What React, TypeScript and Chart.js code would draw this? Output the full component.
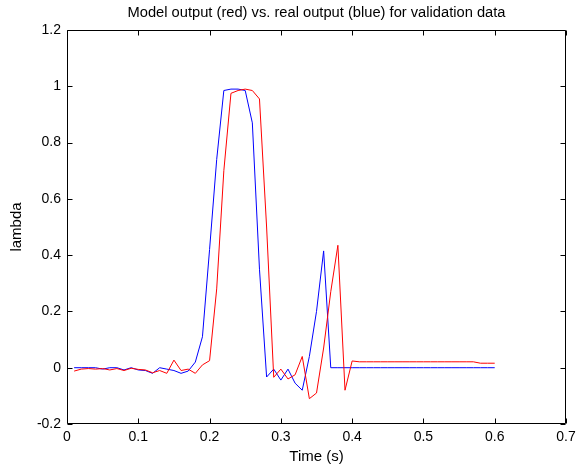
import React, { useEffect, useRef } from "react";
import { Chart, registerables } from "chart.js";

Chart.register(...registerables);

const TIME = [
  0.01, 0.02, 0.03, 0.04, 0.05, 0.06, 0.07, 0.08, 0.09, 0.1,
  0.11, 0.12, 0.13, 0.14, 0.15, 0.16, 0.17, 0.18, 0.19, 0.2,
  0.21, 0.22, 0.23, 0.24, 0.25, 0.26, 0.27, 0.28, 0.29, 0.3,
  0.31, 0.32, 0.33, 0.34, 0.35, 0.36, 0.37, 0.38, 0.39, 0.4,
  0.41, 0.42, 0.43, 0.44, 0.45, 0.46, 0.47, 0.48, 0.49, 0.5,
  0.51, 0.52, 0.53, 0.54, 0.55, 0.56, 0.57, 0.58, 0.59, 0.6,
];

const REAL_OUTPUT = [
  0, 0, 0, 0, -0.005, 0, 0, -0.008, 0, -0.008,
  -0.01, -0.02, 0, -0.005, -0.01, -0.02, -0.012, 0.02, 0.11, 0.42,
  0.74, 0.985, 0.99, 0.99, 0.985, 0.87, 0.35, -0.033, -0.005, -0.044,
  -0.005, -0.055, -0.08, 0.04, 0.2, 0.415, 0, 0, 0, 0,
  0, 0, 0, 0, 0, 0, 0, 0, 0, 0,
  0, 0, 0, 0, 0, 0, 0, 0, 0, 0,
];

const MODEL_OUTPUT = [
  -0.012, -0.005, -0.003, -0.005, -0.003, -0.008, -0.003, -0.01, -0.002, -0.006,
  -0.008, -0.018, -0.01, -0.02, 0.027, -0.01, -0.005, -0.02, 0.01, 0.025,
  0.28, 0.7, 0.975, 0.985, 0.99, 0.985, 0.955, 0.5, -0.034, -0.005,
  -0.04, -0.025, 0.04, -0.11, -0.09, 0.07, 0.27, 0.435, -0.08, 0.024,
  0.021, 0.021, 0.021, 0.021, 0.021, 0.021, 0.021, 0.021, 0.021, 0.021,
  0.021, 0.021, 0.021, 0.021, 0.021, 0.021, 0.021, 0.016, 0.016, 0.016,
];

const X_TICKS = [0, 0.1, 0.2, 0.3, 0.4, 0.5, 0.6, 0.7];
const Y_TICKS = [-0.2, 0, 0.2, 0.4, 0.6, 0.8, 1, 1.2];

const TITLE = "Model output (red) vs. real output (blue) for validation data";
const X_LABEL = "Time (s)";
const Y_LABEL = "lambda";

const FONT = "'Liberation Sans', Arial, Helvetica, sans-serif";

const fmt = (v: number) => String(Number(Number(v).toFixed(3)));

const boxPlugin = {
  id: "matlabBox",
  afterDatasetsDraw(chart: any) {
    const { ctx, chartArea, scales } = chart;
    const { left, right, top, bottom } = chartArea;
    const L = Math.round(left) + 0.5;
    const R = Math.round(right) - 0.5;
    const T = Math.round(top) + 0.5;
    const B = Math.round(bottom) - 0.5;
    const len = 5;
    ctx.save();
    ctx.strokeStyle = "#000";
    ctx.lineWidth = 1;
    ctx.beginPath();
    ctx.rect(L, T, R - L, B - T);
    X_TICKS.forEach((v) => {
      const px = Math.round(scales.x.getPixelForValue(v)) + 0.5;
      ctx.moveTo(px, B);
      ctx.lineTo(px, B - len);
      ctx.moveTo(px, T);
      ctx.lineTo(px, T + len);
    });
    Y_TICKS.forEach((v) => {
      const py = Math.round(scales.y.getPixelForValue(v)) + 0.5;
      ctx.moveTo(L, py);
      ctx.lineTo(L + len, py);
      ctx.moveTo(R, py);
      ctx.lineTo(R - len, py);
    });
    ctx.stroke();
    ctx.restore();
  },
};

export default function App() {
  const ref = useRef<HTMLCanvasElement | null>(null);

  useEffect(() => {
    if (!ref.current) return;
    const chart = new Chart(ref.current, {
      type: "line",
      data: {
        datasets: [
          {
            label: "model",
            data: TIME.map((t, i) => ({ x: t, y: MODEL_OUTPUT[i] })),
            borderColor: "#ff0000",
            borderWidth: 1,
            pointRadius: 0,
            tension: 0,
            fill: false,
          },
          {
            label: "real",
            data: TIME.map((t, i) => ({ x: t, y: REAL_OUTPUT[i] })),
            borderColor: "#0000ff",
            borderWidth: 1,
            pointRadius: 0,
            tension: 0,
            fill: false,
          },
        ],
      },
      options: {
        animation: false,
        responsive: false,
        maintainAspectRatio: false,
        layout: { padding: { left: 0, right: 10, top: 0, bottom: 0 } },
        plugins: {
          legend: { display: false },
          tooltip: { enabled: false },
          title: {
            display: true,
            text: TITLE,
            fullSize: false,
            color: "#000",
            font: { family: FONT, size: 14.7, weight: "normal" },
            padding: { top: 3.7, bottom: 8.66 },
          },
        },
        scales: {
          x: {
            type: "linear",
            min: 0,
            max: 0.7,
            afterBuildTicks: (s: any) => {
              s.ticks = X_TICKS.map((v) => ({ value: v }));
            },
            afterFit: (s: any) => {
              s.height = 44;
              s.paddingLeft = 0;
              s.paddingRight = 0;
            },
            grid: { display: false, drawTicks: false },
            border: { display: false },
            ticks: {
              color: "#000",
              padding: 5,
              maxRotation: 0,
              autoSkip: false,
              font: { family: FONT, size: 14 },
              callback: (v: any) => fmt(v),
            },
            title: {
              display: true,
              text: X_LABEL,
              color: "#000",
              font: { family: FONT, size: 15 },
              padding: { top: 0, bottom: 2 },
            },
          },
          y: {
            type: "linear",
            min: -0.2,
            max: 1.2,
            afterBuildTicks: (s: any) => {
              s.ticks = Y_TICKS.map((v) => ({ value: v }));
            },
            afterFit: (s: any) => {
              s.width = 67;
              s.paddingTop = 0;
              s.paddingBottom = 0;
            },
            grid: { display: false, drawTicks: false },
            border: { display: false },
            ticks: {
              color: "#000",
              padding: 6,
              autoSkip: false,
              font: { family: FONT, size: 14 },
              callback: (v: any) => fmt(v),
            },
            title: {
              display: true,
              text: Y_LABEL,
              color: "#000",
              font: { family: FONT, size: 15 },
              padding: { top: 8, bottom: 0 },
            },
          },
        },
      },
      plugins: [boxPlugin],
    } as any);
    return () => chart.destroy();
  }, []);

  return (
    <div style={{ position: "absolute", left: 0, top: 0, width: 576, height: 468, background: "#fff" }}>
      <canvas ref={ref} width={576} height={468} style={{ display: "block" }} />
    </div>
  );
}
